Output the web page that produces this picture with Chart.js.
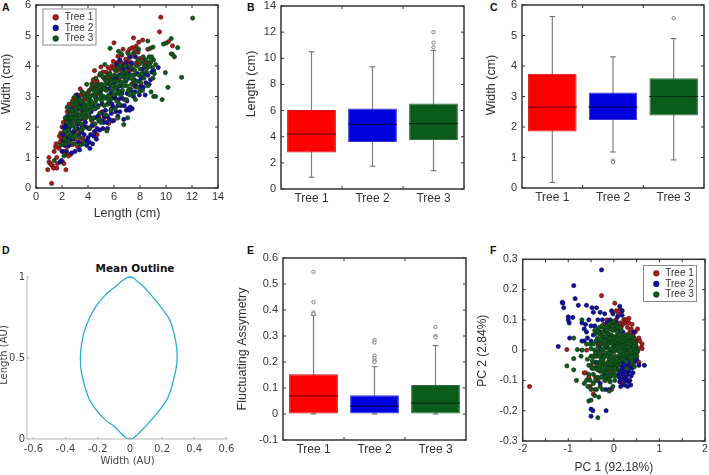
<!DOCTYPE html>
<html><head><meta charset="utf-8">
<script src="https://cdn.jsdelivr.net/npm/chart.js@4"></script>
<style>
html,body{margin:0;padding:0;background:#fff;width:709px;height:475px;overflow:hidden}
canvas{position:absolute}
.t{position:absolute;font:bold 10.5px "Liberation Sans",sans-serif;color:#111;white-space:nowrap}
</style></head><body>
<div class="t" style="left:2px;top:1px">A</div>
<div class="t" style="left:247px;top:1px">B</div>
<div class="t" style="left:490px;top:1px">C</div>
<div class="t" style="left:2px;top:244px">D</div>
<div class="t" style="left:247px;top:244px">E</div>
<div class="t" style="left:490px;top:244px">F</div>
<div class="t" style="left:135px;top:262px;transform:translateX(-50%);font:bold 10.5px 'DejaVu Sans'">Mean Outline</div>
<canvas id="a" style="left:0;top:0" width="235" height="235"></canvas>
<canvas id="b" style="left:235px;top:0" width="235" height="235"></canvas>
<canvas id="c" style="left:470px;top:0" width="239" height="235"></canvas>
<canvas id="d" style="left:0;top:240px" width="235" height="235"></canvas>
<canvas id="e" style="left:235px;top:240px" width="235" height="235"></canvas>
<canvas id="f" style="left:470px;top:240px" width="239" height="235"></canvas>
<script>
const trees=['Tree 1','Tree 2','Tree 3'];
const sizeTree1=[[0.9,0.6],[1.0,0.85],[1.0,1.0],[1.1,0.8],[1.2,0.15],[1.2,0.75],[1.3,0.72],[1.35,0.65],[1.4,1.2],[1.6,0.65],[1.6,1.0],[1.65,0.8],[1.5,1.35],[1.55,1.45],[1.8,1.7],[1.9,1.8],[2.05,0.85],[2.1,1.2],[2.15,0.8],[2.3,0.6],[2.3,1.1],[2.5,1.05],[2.65,1.1],[2.4,1.35],[2.0,2.0],[2.1,2.15],[2.3,2.25],[2.4,2.5],[2.6,2.5],[2.8,2.75],[3.0,2.85],[3.1,3.0],[3.2,3.05],[3.4,3.25],[9.6,5.6],[9.5,5.12],[7.5,4.92],[7.9,4.78],[7.7,4.65],[8.2,4.85],[8.6,4.55],[6.0,4.76],[7.2,4.55],[7.4,4.6],[6.7,4.55],[10.2,4.8],[10.5,4.66],[7.3,4.3],[7.5,4.42],[7.7,4.1],[7.9,4.05],[8.3,4.2],[8.8,4.1],[8.1,3.35],[7.6,3.32],[6.2,4.1],[6.5,3.9],[6.9,4.22],[7.0,4.0],[4.5,3.85],[5.0,3.97],[5.4,3.8],[5.7,3.75],[5.85,4.0],[6.3,4.32],[4.4,3.55],[4.7,3.5],[4.1,3.2],[3.7,3.02],[3.6,2.85],[3.9,3.1],[4.3,3.42],[5.2,3.62],[3.2,1.35],[3.4,1.5],[3.6,1.62],[4.0,1.55],[4.5,1.85],[4.7,1.75],[5.6,2.12],[6.0,2.22],[6.8,2.9],[7.5,3.42],[2.8,1.42],[3.0,1.6],[2.2,1.7],[2.5,1.9],[2.7,2.2],[3.1,2.35],[3.5,2.55],[3.3,2.1],[3.8,2.7],[4.2,2.8],[4.6,3.05],[5.0,3.2],[5.3,3.3],[5.6,3.5],[6.1,3.65],[6.4,3.55],[6.8,3.75],[7.2,3.85],[6.6,4.35],[7.05,4.45],[7.6,4.55],[5.95,4.15],[6.35,4.12],[5.55,3.95],[4.9,3.7],[2.9,2.95],[2.55,2.75],[2.35,2.05],[1.95,1.6],[1.75,1.3],[3.05,1.9],[3.7,2.25],[4.1,2.35],[4.4,2.05],[5.1,2.5],[5.5,2.75],[5.9,2.95],
[1.85,1.5],[2.15,1.95],[2.45,2.3],[2.75,2.6],[2.95,2.65],[3.25,2.75],[3.45,3.05],[3.75,2.9],[4.0,3.05],[4.25,3.25],[4.55,3.3],[4.8,3.4],[5.15,3.8],[5.45,3.6],[5.75,3.9],[6.0,3.95],[6.25,3.85],[6.6,4.1],[6.8,4.05],[7.15,4.15],[7.35,4.05],[7.85,4.45],[8.0,4.25],[8.45,4.1],[8.5,3.95],[2.0,1.45],[2.25,1.5],[2.6,1.55],[2.9,1.8],[3.35,1.8],[3.55,1.95],[3.9,2.0],[4.3,2.2],[4.85,2.3],[5.25,2.3],[5.8,2.6]];
const sizeTree2=[[2.0,1.2],[1.85,0.85],[1.95,0.9],[2.1,1.55],[2.25,1.85],[2.35,2.1],[2.5,2.2],[2.3,1.95],[2.6,2.3],[2.7,2.05],[2.8,1.6],[2.9,1.85],[3.0,1.2],[2.75,1.15],[3.1,3.05],[3.3,2.95],[3.2,2.6],[3.4,2.25],[3.55,2.05],[3.7,1.75],[3.85,1.55],[4.0,1.65],[4.15,1.3],[4.2,1.75],[4.05,1.95],[4.3,2.05],[4.5,2.3],[4.7,1.95],[4.85,2.2],[5.0,2.45],[5.2,2.15],[5.35,2.55],[5.5,2.35],[5.6,2.8],[5.8,2.45],[5.95,2.65],[6.1,2.95],[6.3,2.7],[6.45,2.5],[6.6,2.95],[6.75,2.25],[6.95,2.55],[7.1,2.6],[7.2,2.55],[7.25,2.65],[7.0,3.1],[7.3,3.2],[7.5,3.0],[7.7,3.35],[7.9,3.5],[8.1,3.6],[8.25,3.3],[8.4,3.05],[8.6,3.7],[8.8,3.55],[9.05,3.85],[9.4,3.95],[8.5,4.0],[8.2,3.9],[7.8,3.75],[7.4,3.9],[7.1,3.75],[6.9,3.5],[6.75,3.65],[6.5,3.35],[6.25,3.25],[6.0,3.0],[5.75,3.1],[5.4,2.95],[5.1,2.75],[4.8,2.7],[4.55,2.6],[4.25,2.5],[3.95,2.4],[3.65,2.55],[3.45,2.7],[2.65,2.6],[2.45,1.65],[2.2,1.4],[2.55,1.4],[3.25,1.5],[3.5,1.85],[3.8,2.15],[4.4,2.7],[4.6,2.95],[4.95,3.1],[5.3,3.25],[5.65,3.4],[6.05,3.45],[6.4,3.7],[6.7,3.9],[7.0,3.95],[7.35,4.1],[7.65,4.3],[5.9,2.2],[5.5,1.95],[5.15,1.95],[4.65,1.6],[4.45,1.7],[3.35,1.25],[6.3,2.35],[8.0,3.3],[7.55,3.55],[8.3,3.75],[6.6,3.1],[2.95,2.35],[2.35,1.2],[3.15,2.1],[4.1,2.9],[6.15,3.6],
[2.05,1.75],[2.15,2.0],[2.4,2.35],[2.55,1.95],[2.75,1.8],[2.85,2.2],[3.05,2.5],[3.2,1.95],[3.3,1.7],[3.6,1.45],[3.75,2.0],[3.9,1.4],[4.1,1.5],[4.35,1.45],[4.55,1.85],[4.75,2.35],[4.9,1.9],[5.05,2.2],[5.25,2.35],[5.45,2.15],[5.65,2.25],[5.85,2.75],[6.15,2.5],[6.35,2.9],[6.55,2.7],[6.8,2.7],[7.0,2.85],[7.4,2.6],[7.6,3.15],[7.95,3.05],[8.45,3.45],[8.7,3.4],[8.9,3.8],[6.2,4.05],[6.65,4.0],[6.45,4.2],[6.95,4.1],[7.2,4.3],[5.85,3.6],[5.6,3.25]];
const sizeTree3=[[12.05,5.57],[11.2,3.63],[10.15,3.3],[9.7,2.9],[9.95,3.78],[10.0,4.75],[9.8,4.72],[10.4,4.9],[10.9,4.6],[10.5,4.38],[10.4,4.4],[10.65,4.3],[9.0,4.62],[8.8,4.58],[8.6,4.82],[7.9,4.55],[5.7,4.58],[6.35,4.48],[6.55,4.4],[7.1,4.4],[7.55,4.42],[8.7,4.3],[8.9,4.3],[9.05,4.2],[9.2,4.05],[8.95,3.95],[9.1,3.75],[9.0,3.6],[8.6,3.35],[8.85,3.15],[9.05,3.0],[9.2,3.0],[8.2,3.2],[7.65,2.9],[7.2,3.05],[6.75,2.08],[7.05,2.3],[6.3,2.3],[5.45,1.87],[5.0,2.15],[3.4,1.4],[2.6,1.7],[1.9,1.4],[2.05,1.45],[1.4,0.9],[2.15,1.05],[2.2,1.6],[2.35,1.8],[2.5,1.55],[2.7,1.75],[2.6,2.05],[2.8,2.2],[2.55,2.3],[2.95,2.45],[2.75,2.55],[3.15,2.15],[3.3,2.4],[3.5,2.1],[3.45,2.6],[3.2,2.85],[3.65,2.35],[3.8,2.55],[3.6,2.8],[3.95,2.75],[3.75,3.0],[4.1,2.55],[4.25,2.85],[4.05,3.15],[3.9,3.4],[4.3,3.3],[4.5,2.6],[4.65,2.9],[4.45,3.2],[4.7,3.35],[4.9,2.45],[5.05,2.85],[4.85,3.1],[5.05,3.4],[5.2,3.0],[5.3,3.55],[5.4,3.2],[5.55,2.75],[5.6,3.05],[5.7,3.4],[5.5,3.7],[5.8,3.65],[5.9,3.2],[5.3,4.05],[6.0,3.5],[6.1,3.85],[6.2,3.1],[6.35,3.35],[6.45,3.65],[6.5,4.0],[6.65,3.2],[6.8,3.5],[6.9,3.8],[7.0,3.35],[7.15,3.6],[7.35,3.4],[7.3,3.95],[7.55,3.7],[7.7,4.0],[7.85,4.2],[8.0,3.9],[8.15,4.1],[8.35,4.0],[8.5,3.8],[7.95,3.15],[7.5,3.1],[6.1,2.6],[5.75,2.55],[4.4,2.3],[4.15,1.95],[3.6,1.95],[3.1,1.75],[3.35,1.65],[2.95,1.45],[3.7,1.45],[2.4,2.65],[2.25,2.3],[2.9,2.75],[3.0,3.0],[4.6,3.6],[4.95,3.75],[6.4,2.75],[6.95,2.9],[3.55,3.15],[4.8,2.25],
[2.3,1.45],[2.45,1.9],[2.65,2.4],[2.85,2.05],[3.0,1.95],[3.05,2.6],[3.25,2.2],[3.35,2.9],[3.55,2.45],[3.7,2.7],[3.85,2.3],[4.0,2.9],[4.2,2.65],[4.35,3.05],[4.55,2.8],[4.6,3.4],[4.75,2.65],[4.8,3.2],[4.95,2.95],[5.1,3.25],[5.15,3.65],[5.25,2.7],[5.35,3.4],[5.5,3.0],[5.65,3.75],[5.75,2.9],[5.85,3.35],[6.0,3.05],[6.05,3.7],[6.25,3.5],[6.3,3.95],[6.55,3.45],[6.6,3.8],[6.75,3.35],[6.85,4.0],[7.05,3.7],[7.25,3.25],[7.45,3.55],[7.6,3.85],[7.75,3.5],[7.9,3.7],[8.05,3.45],[8.3,3.6],[8.45,4.2],[8.7,4.05],[8.25,4.3],[6.2,2.85],[6.5,3.05],[5.35,2.4],[4.55,2.1],[4.25,2.25],[3.45,1.9],[2.85,1.65],
[2.2,1.85],[2.4,2.15],[2.55,2.55],[2.7,2.3],[2.8,2.85],[3.05,2.3],[3.15,2.5],[3.1,2.75],[3.3,2.65],[3.4,2.3],[3.5,2.85],[3.65,3.1],[3.75,2.45],[3.9,2.6],[4.05,2.4],[4.15,3.0],[4.3,2.75],[4.4,3.4],[4.5,3.0],[4.65,3.15],[4.9,3.3],[5.0,3.05],[5.25,3.25],[5.3,2.95],[5.45,3.5],[5.6,2.9],[5.75,3.55],[5.95,3.35],[6.15,3.3],[6.4,3.15],[6.7,3.65],[6.95,3.55],[7.1,3.2],[7.4,3.7],[7.8,3.3],[8.15,3.75],[8.6,3.95],[8.8,4.15]];
const pcaTree1=[[-1.85,-0.12],[-1.03,0.002],[-0.27,0.18],[0.02,0.155],[0.13,0.135],[0.18,0.13],[0.22,0.1],[0.62,0.02],[0.6,0.008],[0.62,0.005],[0.52,0.07],[0.55,-0.04],[0.5,0.03],[0.55,0.04],[0.57,0.03],[-0.65,-0.075],[-0.62,-0.075],[-0.55,-0.09],[-0.4,-0.09],[-0.42,-0.13],[0.15,-0.1],[0.2,-0.11],[0.1,0.12],[0.14,0.09],[0.2,0.085],[0.25,0.09],[0.3,0.1],[0.33,0.09],[0.3,0.075],[0.35,0.06],[0.38,0.07],[0.42,0.05],[0.45,0.04],[0.48,0.025],[0.5,0.01],[0.52,-0.005],[0.5,-0.02],[0.46,-0.03],[0.42,0.02],[0.35,0.03],[0.1,0.06],[0.05,0.1],[-0.05,0.09],[-0.15,0.1],[-0.22,0.085],[-0.25,0.04],[-0.35,0.02],[-0.42,-0.02],[-0.5,-0.05],[-0.3,-0.06],[-0.2,-0.1],[-0.12,-0.09],[-0.05,-0.07],[0.0,-0.05],[0.12,-0.02],[0.2,0.02],[0.28,0.05],[0.4,0.085],[0.24,0.1],[0.16,0.075],[0.08,0.08],[0.47,0.06],[0.36,0.02],[0.3,-0.02],[0.22,-0.06],[0.4,-0.05],[-0.08,0.03],[-0.15,-0.01],[-0.28,0.0],[-0.1,0.05],[0.02,0.02],[0.27,0.1],[0.33,0.105],[-0.35,-0.1],[-0.52,-0.12],[-0.45,-0.145],[-0.05,-0.13],[0.05,0.13],[-0.6,0.0],[-0.18,0.04]];
const pcaTree2=[[-0.27,0.265],[-0.88,0.213],[-0.85,0.17],[-1.13,0.158],[-1.1,0.14],[-1.12,0.155],[-0.78,0.148],[-1.0,0.11],[-1.0,0.1],[-0.98,0.09],[-0.9,0.108],[-0.6,0.148],[-0.48,0.14],[-0.45,0.125],[-0.38,0.14],[-0.3,0.125],[-0.2,0.12],[-0.05,0.13],[-0.02,0.12],[0.13,0.145],[0.18,0.13],[0.18,0.115],[-1.22,0.012],[-0.97,0.04],[-0.7,0.09],[-0.62,0.085],[-0.65,0.07],[-0.6,0.06],[-0.5,0.08],[0.67,-0.05],[0.35,-0.1],[0.3,-0.12],[0.15,-0.12],[-0.5,-0.195],[-0.46,-0.2],[-0.5,-0.218],[-0.17,-0.2],[-0.7,0.03],[-0.65,0.03],[-0.55,0.1],[-0.42,0.08],[-0.35,0.1],[-0.25,0.1],[-0.15,0.09],[-0.08,0.1],[0.0,0.08],[0.08,0.11],[-0.45,0.05],[-0.38,0.03],[-0.5,0.03],[0.1,-0.04],[0.15,-0.05],[0.2,-0.04],[0.25,-0.05],[0.3,-0.05],[0.35,-0.04],[0.4,-0.06],[0.15,-0.07],[0.2,-0.08],[0.25,-0.07],[0.3,-0.08],[0.1,-0.08],[0.05,-0.06],[0.22,-0.09],[0.12,-0.09],[0.33,-0.07],[0.38,-0.085],[0.28,-0.03],[0.18,-0.02],[0.45,-0.04],[0.5,-0.03],[0.55,-0.05],[0.36,0.04],[0.44,0.06],[0.28,0.035],[0.05,0.02],[-0.05,0.0],[-0.15,0.03],[-0.25,-0.02],[-0.32,0.01],[-0.4,-0.04],[-0.3,-0.11],[-0.2,-0.08],[-0.1,-0.13],[-0.18,-0.13],[0.37,-0.115],[0.32,-0.105],[0.13,-0.105],[0.23,-0.115],[0.05,0.09],[0.12,0.07],[0.2,0.06],[-0.58,0.04],[-0.3,0.06],[-0.2,0.07],[-0.1,0.075],[0.27,-0.09],[0.17,-0.095],[0.08,-0.065],[0.18,-0.06],[0.34,-0.055],[0.42,-0.075],[0.26,-0.1]];
const pcaTree3=[[-0.35,-0.223],[-0.55,-0.168],[-0.5,-0.165],[-0.42,-0.15],[-0.33,-0.155],[-0.5,-0.13],[-1.03,-0.052],[-0.88,-0.028],[-0.88,0.04],[-0.82,-0.1],[-0.88,-0.065],[-0.8,0.002],[-0.7,0.0],[-0.72,-0.02],[-0.7,0.1],[-0.6,-0.1],[-0.65,-0.11],[-0.57,-0.12],[-0.55,-0.05],[-0.5,-0.02],[-0.58,-0.03],[-0.6,0.02],[-0.52,0.02],[-0.45,-0.08],[-0.4,-0.1],[-0.3,-0.12],[-0.25,-0.13],[-0.02,-0.12],[-0.1,-0.135],[-0.3,-0.07],[-0.25,-0.05],[-0.2,-0.07],[-0.15,-0.05],[-0.1,-0.08],[-0.05,-0.055],[0.0,-0.075],[0.05,-0.05],[0.1,-0.025],[-0.4,-0.06],[-0.45,-0.04],[-0.38,-0.02],[-0.33,-0.04],[-0.42,0.0],[-0.45,0.02],[-0.35,0.01],[-0.28,-0.015],[-0.22,-0.025],[-0.15,-0.02],[-0.1,-0.03],[-0.03,-0.03],[0.03,-0.02],[0.08,-0.035],[0.13,-0.045],[0.18,-0.03],[0.25,-0.02],[0.32,-0.02],[0.38,-0.015],[0.45,-0.01],[0.5,-0.02],[0.52,0.0],[0.48,0.015],[0.42,0.0],[0.36,0.01],[0.3,0.0],[0.24,0.0],[0.18,0.005],[0.12,-0.005],[0.06,0.0],[0.0,-0.005],[-0.06,-0.01],[-0.12,0.005],[-0.18,0.01],[-0.24,0.02],[-0.3,0.03],[-0.36,0.04],[-0.28,0.05],[-0.22,0.045],[-0.15,0.03],[-0.09,0.025],[-0.03,0.02],[0.03,0.025],[0.09,0.02],[0.15,0.025],[0.21,0.025],[0.27,0.02],[0.33,0.03],[0.39,0.03],[0.44,0.04],[0.3,0.05],[0.24,0.05],[0.18,0.045],[0.12,0.04],[0.06,0.045],[0.0,0.045],[-0.06,0.05],[-0.12,0.055],[-0.18,0.06],[-0.08,0.07],[-0.02,0.065],[0.04,0.07],[0.1,0.055],[0.16,0.065],[-0.05,0.09],[0.0,0.095],[0.05,0.085],[-0.14,0.075],[-0.22,0.075],[-0.35,0.07],[-0.42,0.065],[0.2,-0.01],[0.4,0.015],[-0.48,-0.06],[-0.35,-0.09],[-0.18,-0.1],[-0.08,-0.105],[0.02,-0.1],[-0.55,-0.08],[-0.12,-0.065],[0.07,-0.065],[0.28,-0.06],[0.42,-0.03],[0.45,-0.055],[-0.25,-0.085],[-0.52,-0.1],[-0.45,-0.11],[-0.38,-0.13],
[-0.39,0.03],[-0.32,-0.02],[-0.26,0.0],[-0.2,-0.045],[-0.13,-0.04],[-0.07,-0.02],[-0.01,0.01],[0.05,0.01],[0.11,0.03],[0.17,0.015],[0.23,0.035],[0.29,0.01],[0.35,0.02],[0.41,0.03],[0.47,0.0],[0.02,0.03],[-0.04,0.035],[-0.11,0.04],[-0.17,0.045],[-0.25,0.06],[-0.31,0.075],[-0.05,0.07],[0.01,0.08],[0.07,0.06],[0.13,0.05],[0.19,0.03],[0.25,0.035],[-0.43,-0.02],[-0.37,-0.05],[-0.29,-0.04],[-0.24,-0.035],[-0.18,-0.055],[-0.12,-0.05],[-0.06,-0.045],[0.0,-0.035],[0.06,-0.03],[0.12,-0.035],[0.19,-0.015],[0.26,-0.035],[0.33,-0.01],[0.39,-0.03],[0.44,-0.02],[0.5,-0.005],[-0.02,-0.06],[-0.08,-0.06],[-0.16,-0.075],[-0.23,-0.07],[-0.28,-0.09],[-0.1,-0.095],[0.03,-0.085],
[-0.4,0.055],[-0.33,0.055],[-0.27,0.035],[-0.21,0.005],[-0.16,0.015],[-0.1,-0.01],[-0.05,0.005],[0.03,0.005],[0.08,0.01],[0.14,0.01],[0.2,0.015],[0.26,0.01],[0.32,0.01],[0.37,0.0],[0.44,0.015],[0.46,0.025],[0.38,0.045],[0.33,0.045],[0.27,0.04],[0.21,0.04],[0.15,0.04],[0.09,0.035],[0.03,0.04],[-0.02,0.04],[-0.08,0.04],[-0.13,0.02],[-0.19,0.03],[-0.2,-0.01],[-0.27,-0.03],[-0.34,-0.005],[-0.4,-0.01],[-0.47,-0.02],[-0.44,-0.06],[-0.36,-0.065],[-0.31,-0.055],[-0.26,-0.065],[-0.14,-0.06],[-0.09,-0.045],[-0.02,-0.045],[0.04,-0.04],[0.09,-0.05],[0.15,-0.015],[0.22,-0.015],[0.28,-0.01],[0.35,-0.025],[0.4,-0.04],[0.02,-0.06],[-0.05,-0.085],[-0.13,-0.085],[-0.2,-0.09],[-0.16,0.065],[-0.1,0.085],[-0.03,0.08],[0.08,0.075],[0.13,0.075],[-0.26,0.08],[-0.28,0.02],[-0.5,0.005],[-0.47,-0.035]];
const outlineX=[0,0.02,0.05,0.08,0.124,0.17,0.228,0.252,0.27,0.288,0.294,0.29,0.27,0.245,0.207,0.165,0.124,0.09,0.05,0.02,0,-0.02,-0.05,-0.09,-0.13,-0.17,-0.21,-0.25,-0.285,-0.303,-0.308,-0.303,-0.285,-0.268,-0.25,-0.21,-0.15,-0.1,-0.06,-0.025,0];
const outlineY=[0,0.004,0.03,0.06,0.107,0.16,0.24,0.295,0.36,0.44,0.5,0.57,0.67,0.74,0.795,0.85,0.897,0.935,0.97,0.995,1,0.995,0.975,0.94,0.91,0.87,0.82,0.75,0.66,0.57,0.5,0.42,0.34,0.285,0.24,0.18,0.115,0.08,0.04,0.008,0];
const lengthBox={lo:[0.9,1.75,1.4],q1:[2.8,3.6,3.75],med:[4.2,4.95,5.0],q3:[6.05,6.15,6.55],hi:[10.5,9.35,10.6]};
const lengthOut=[[],[],[10.85,11.2,12.0]];
const widthBox={lo:[0.18,1.18,0.92],q1:[1.85,2.23,2.38],med:[2.65,2.65,3.0],q3:[3.75,3.13,3.6],hi:[5.62,4.3,4.9]};
const widthOut=[[],[0.85,0.9],[5.57]];
const asymBox={lo:[0,0,0],q1:[0.002,0.002,0.002],med:[0.07,0.03,0.042],q3:[0.153,0.072,0.112],hi:[0.38,0.182,0.263]};
const asymOut=[[0.385,0.39,0.43,0.547],[0.2,0.205,0.215,0.225,0.275,0.285],[0.295,0.3,0.335]];
const ticksLen=[0,2,4,6,8,10,12,14],ticksW=[0,1,2,3,4,5,6],ticksAsym=[-0.1,0,0.1,0.2,0.3,0.4,0.5,0.6];
const ticksPc1=[-2,-1.5,-1,-0.5,0,0.5,1,1.5,2],ticksPc2=[-0.3,-0.2,-0.1,0,0.1,0.2,0.3];
const ticksDx=[-0.6,-0.4,-0.2,0,0.2,0.4,0.6],ticksDy=[0,0.5,1];

Chart.defaults.animation=false;Chart.defaults.responsive=false;
Chart.defaults.font.family='"Liberation Sans",sans-serif';
Chart.defaults.color='#333';
const boxCol=['#ff0000','#0000dd','#0b5c1a'],boxEdge=['#c41010','#3a3ad0','#2f7040'],dotCol=['#a81c1c','#10109c','#12591f'],edge=['#5a1414','#0a0a60','#0b3a14'],medCol=['#8a0000','#000060','#063010'];

function frame(){return{id:'frame',afterDatasetsDraw(ch){
  const {left:l,right:r,top:t,bottom:b}=ch.chartArea,c=ch.ctx,x=ch.scales.x,y=ch.scales.y,o=ch.options.plugins.frameCfg;
  c.save();c.strokeStyle=o.color;c.lineWidth=o.lw;
  if(o.open){c.beginPath();c.moveTo(l,t);c.lineTo(l,b);c.lineTo(r,b);c.stroke();}else c.strokeRect(l,t,r-l,b-t);
  c.lineWidth=1;c.beginPath();const L=o.len;
  const xs=x.type==='category'?[1,2].map(i=>l+(r-l)*i/3):x.ticks.map(k=>x.getPixelForValue(k.value));
  xs.forEach(p=>{c.moveTo(p,b);c.lineTo(p,b-L);if(!o.open){c.moveTo(p,t);c.lineTo(p,t+L);}});
  y.ticks.forEach(k=>{const p=y.getPixelForValue(k.value);c.moveTo(l,p);c.lineTo(l+L,p);if(!o.open){c.moveTo(r,p);c.lineTo(r-L,p);}});
  c.stroke();c.restore();
},afterLayout(ch){const d=ch.options.plugins.frameCfg.titleShift||0,y=ch.scales.y;y.top-=d;y.bottom-=d;
  const g=ch.options.plugins.frameCfg.legendAt;
  if(g&&ch.legend){const L=ch.legend;const w=L.width,h=L.height;L.left=g[0];L.right=g[0]+w;L.top=g[1];L.bottom=g[1]+h;}
},afterDraw(ch){const g=ch.options.plugins.frameCfg.legendBox;if(!g)return;const c=ch.ctx;c.save();c.strokeStyle='#8a8a8a';c.lineWidth=1;c.strokeRect(g[0]+.5,g[1]+.5,g[2],g[3]);c.restore();}};}

function axes(p){
  const fixY=s=>{s.width=p.l;s.paddingTop=s.paddingBottom=0;s.paddingLeft=s.paddingRight=0;};
  const fixX=s=>{s.height=p.H-p.b;s.paddingLeft=s.paddingRight=0;s.paddingTop=s.paddingBottom=0;};
  const fy=p.ft||12.5,lh=fy*1.2,tf=p.fn||11;
  const y={type:'linear',min:p.ymin,max:p.ymax,border:{display:false},grid:{display:false,drawTicks:false},
    afterBuildTicks:s=>{s.ticks=p.yt.map(v=>({value:v}));},afterFit:fixY,
    ticks:{autoSkip:false,padding:p.yp??5,font:{size:tf,family:p.fam},color:p.col,callback:v=>p.yf?p.yf(v):String(v)},
    title:{display:true,text:p.yl,color:p.col,font:{size:fy,family:p.fam},padding:{top:p.ytx-lh/2,bottom:0}}};
  const x={border:{display:false},grid:{display:false,drawTicks:false},afterFit:fixX,
    ticks:{autoSkip:false,maxRotation:0,padding:p.xp??2,font:{size:p.fx||tf,family:p.fam},color:p.col},
    title:{display:!!p.xl,text:p.xl,color:p.col,font:{size:fy,family:p.fam},padding:{top:0,bottom:p.H-p.xty-lh/2}}};
  if(p.cat){x.type='category';x.labels=trees;}
  else{x.type='linear';x.min=p.xmin;x.max=p.xmax;x.afterBuildTicks=s=>{s.ticks=p.xt.map(v=>({value:v}));};x.ticks.callback=p.xf||(v=>String(v));}
  return {x,y};
}
function fcfg(p){return{color:p.fc||'#333',lw:p.lw||1.5,len:p.tl||3,open:p.open,titleShift:p.shift,legendAt:p.legendAt,legendBox:p.legendBox};}
function scatter(id,sets,p){
  new Chart(document.getElementById(id),{type:'scatter',data:{datasets:sets.map((s,i)=>({label:trees[i],clip:false,data:s.map(q=>({x:q[0],y:q[1]})),backgroundColor:dotCol[i],borderColor:edge[i],borderWidth:.7,pointRadius:2.1,order:3-i}))},
   options:{layout:{autoPadding:false,padding:{top:p.t,right:p.W-p.r,left:0,bottom:0}},scales:axes(p),
    plugins:{tooltip:{enabled:false},frameCfg:fcfg(p),legend:{position:'chartArea',align:'start',labels:{sort:(a,b)=>a.datasetIndex-b.datasetIndex,usePointStyle:true,pointStyle:'circle',boxWidth:8,boxHeight:4,padding:0.6,color:'#333',font:{size:p.lg||10}}}}},plugins:[frame()]});
}
function box(id,B,out,p){
  const ds=[];
  ds.push({type:'bar',label:'box',clip:false,data:trees.map((t,i)=>[B.q1[i],B.q3[i]]),backgroundColor:boxCol,borderColor:boxEdge,borderWidth:1,borderSkipped:false,barPercentage:.8,categoryPercentage:1,grouped:false,order:3});
  trees.forEach((t,i)=>{
    ds.push({type:'line',label:'whisker '+t,clip:false,data:[{x:t,y:B.lo[i]},{x:t,y:B.hi[i]}],borderColor:'#808080',borderWidth:1.2,pointStyle:'line',pointRadius:2.8,pointBorderColor:'#707070',pointBorderWidth:1.1,order:4});
    ds.push({type:'line',label:'median '+t,clip:false,showLine:false,data:[{x:t,y:B.med[i]}],pointStyle:'line',pointRadius:24.4,pointBorderColor:medCol[i],pointBorderWidth:1.2,order:1});
    out[i].forEach((v,j)=>ds.push({type:'line',label:'outlier '+t+' '+j,clip:false,showLine:false,data:[{x:t,y:v}],pointStyle:'circle',pointRadius:1.7,pointBackgroundColor:'#fff',pointBorderColor:'#666',pointBorderWidth:.8,order:2}));
  });
  new Chart(document.getElementById(id),{type:'bar',data:{labels:trees,datasets:ds},
   options:{layout:{autoPadding:false,padding:{top:p.t,right:p.W-p.r,left:0,bottom:0}},scales:axes(p),plugins:{legend:{display:false},tooltip:{enabled:false},frameCfg:fcfg(p)}},plugins:[frame()]});
}
const fmt1=v=>v===0?'0':v.toFixed(1);

scatter('a',[sizeTree1,sizeTree2,sizeTree3],{W:235,H:235,l:36,r:218,t:5,b:188,xmin:0,xmax:14,ymin:0,ymax:6,xt:ticksLen,yt:ticksW,xl:'Length (cm)',yl:'Width (cm)',ytx:7,xty:214,shift:12.5,legendAt:[51.1,11.7],legendBox:[42.5,8.5,53,36]});
box('b',lengthBox,lengthOut,{W:235,H:235,l:46,r:229,t:6,b:189,cat:true,ymin:0,ymax:14,yt:ticksLen,yl:'Length (cm)',ytx:16.7,shift:13.5,fx:12});
box('c',widthBox,widthOut,{W:239,H:235,l:52,r:234,t:5,b:188,cat:true,ymin:0,ymax:6,yt:ticksW,yl:'Width (cm)',ytx:21.7,shift:11.5,fx:12});
new Chart(document.getElementById('d'),{type:'scatter',data:{datasets:[{label:'Mean Outline',clip:false,data:outlineX.map((v,i)=>({x:v,y:outlineY[i]})),showLine:true,borderColor:'#2bacd6',borderWidth:1.3,pointRadius:0,tension:.25,fill:false}]},
 options:{layout:{autoPadding:false,padding:{top:37,right:7,left:0,bottom:0}},scales:axes({W:235,H:235,l:27,r:228,t:37,b:199,xmin:-0.64,xmax:0.61,ymin:0,ymax:1,xt:ticksDx,yt:ticksDy,xl:'Width (AU)',yl:'Length (AU)',ytx:4,xty:221,fam:'"DejaVu Sans"',fn:10,ft:10,col:'#444',yp:2,xp:4}),
 plugins:{legend:{display:false},tooltip:{enabled:false},frameCfg:fcfg({fc:'#b5b5b5',lw:1,tl:2,open:true,shift:3})}},plugins:[frame()]});
box('e',asymBox,asymOut,{W:235,H:235,l:48,r:231,t:18,b:200,cat:true,ymin:-0.1,ymax:0.6,yt:ticksAsym,yf:fmt1,yl:'Fluctuating Assymetry',ytx:8,shift:0,fx:12});
scatter('f',[pcaTree1,pcaTree2,pcaTree3],{W:239,H:235,l:52.7,r:235,t:19.3,b:201,xmin:-2,xmax:2,ymin:-0.3,ymax:0.3,xt:ticksPc1,yt:ticksPc2,xf:v=>Number.isInteger(v)?String(v):'',yf:fmt1,xl:'PC 1 (92.18%)',yl:'PC 2 (2.84%)',ytx:12.7,xty:228,shift:-0.5,ft:12,legendAt:[181.7,27.7],legendBox:[173,25,53,36],fn:10.5,lg:10});
</script></body></html>
